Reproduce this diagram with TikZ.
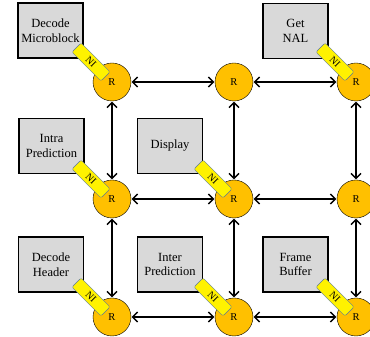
\documentclass[tikz,border=0pt]{standalone}
\usepackage{fontspec}
\setmainfont{Liberation Serif}
\usetikzlibrary{arrows.meta}
\definecolor{routerfill}{HTML}{FFC000}
\definecolor{boxfill}{HTML}{D9D9D9}
\definecolor{niedge}{HTML}{5B7897}

\begin{document}
\begin{tikzpicture}[x=1pt,y=1pt,
  router/.style={circle,draw,fill=routerfill,minimum size=38pt,inner sep=0pt,font=\fontsize{10.5}{12}\selectfont},
  ipblock/.style={draw,line width=1.2pt,fill=boxfill,minimum width=65pt,minimum height=55pt,inner sep=0pt,align=center,font=\fontsize{12.5}{14.5}\selectfont},
  ni/.style={draw=niedge,fill=yellow,rounded corners=2pt,minimum width=41pt,minimum height=13pt,inner sep=0pt,rotate=-45,font=\fontsize{10}{11}\selectfont},
  link/.style={line width=1.4pt,{Straight Barb[length=5pt,width=10pt]}-{Straight Barb[length=5pt,width=10pt]},shorten <=0.5pt,shorten >=0.5pt}]
\useasboundingbox (0,0) rectangle (370,337);
% 3x3 mesh of routers, rows counted from the top
\foreach \r/\y in {1/255,2/138,3/20}{
  \foreach \c/\x in {1/112,2/234,3/356}{
    \node[router] (r\r\c) at (\x,\y) {R};}}
% links between neighbouring routers
\foreach \r in {1,2,3}{
  \draw[link] (r\r1) -- (r\r2);
  \draw[link] (r\r2) -- (r\r3);}
\foreach \c in {1,2,3}{
  \draw[link] (r1\c) -- (r2\c);
  \draw[link] (r2\c) -- (r3\c);}
% processing blocks
\node[ipblock] (dm) at (50.5,306.5) {Decode\\Microblock};
\node[ipblock] (gn) at (295.5,306) {Get\\NAL};
\node[ipblock] (ip) at (51.5,191) {Intra\\Prediction};
\node[ipblock] (ds) at (170,191) {Display};
\node[ipblock] (dh) at (51,72.5) {Decode\\Header};
\node[ipblock] (in) at (170,72.5) {Inter\\Prediction};
\node[ipblock] (fb) at (295.5,72.5) {Frame\\Buffer};
% network interfaces sit across block corner and router
\foreach \n in {11,13,21,22,31,32,33}{
  \node[ni] (ni\n) at ([shift={(-21,20)}]r\n) {NI};}
\end{tikzpicture}
\end{document}
